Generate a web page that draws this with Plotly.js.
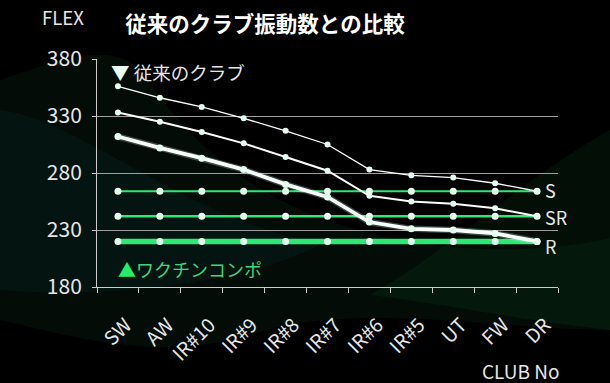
<!DOCTYPE html>
<html><head><meta charset="utf-8">
<script src="https://cdn.plot.ly/plotly-3.0.1.min.js"></script>
<style>html,body{margin:0;padding:0;background:#000;}#chart{width:610px;height:383px;}</style>
</head><body><div id="chart"></div>
<script>
const clubs = ["SW","AW","IR#10","IR#9","IR#8","IR#7","IR#6","IR#5","UT","FW","DR"];
const oldS  = [356, 346, 338, 328, 317, 305, 283, 278, 276, 271, 264];
const oldSR = [333, 325, 316, 306, 294, 282, 260, 255, 253, 249, 242];
const oldR  = [312, 302, 293, 283, 270, 259, 237, 231, 230, 227, 220];
const newS  = [264, 264, 264, 264, 264, 264, 264, 264, 264, 264, 264];
const newSR = [242, 242, 242, 242, 242, 242, 242, 242, 242, 242, 242];
const newR  = [220, 220, 220, 220, 220, 220, 220, 220, 220, 220, 220];
const yTicks = [180, 230, 280, 330, 380];

const FONT = "Noto Sans CJK JP, Noto Sans, sans-serif";
const GREEN = "#2fe874";
const DOT = "#e4fff0";

function tr(y, color, width, msize){
  return {x: clubs, y: y, type: "scatter", mode: "lines+markers",
    line: {color: color, width: width},
    marker: {color: DOT, size: msize}, hoverinfo: "skip", showlegend: false};
}
const traces = [
  tr(newR, GREEN, 5.5, 7),
  tr(newSR, GREEN, 2.5, 7),
  tr(newS, GREEN, 2, 7),
  {x: clubs, y: oldR, type: "scatter", mode: "lines", line: {color: "rgba(215,255,240,0.25)", width: 6.5}, hoverinfo: "skip", showlegend: false},
  tr(oldR, "#f8fffc", 3.8, 7),
  tr(oldSR, "#ffffff", 2, 6),
  tr(oldS, "#ffffff", 1.3, 6)
];

// decorative background (pixel -> paper coordinates)
const L = 97, T = 59, W = 461, H = 228;
function px2x(px){ return (px - L) / W; }
function px2y(py){ return (T + H - py) / H; }
function P(p){ return px2x(p[0]).toFixed(4) + "," + px2y(p[1]).toFixed(4); }
function path(cmds){
  return cmds.map(c => c[0] + " " + c.slice(1).map(P).join(" ")).join(" ") + " Z";
}
const shapes = [
  {type: "path", xref: "paper", yref: "paper", layer: "below", line: {width: 0},
   fillcolor: "rgba(25,110,60,0.11)",
   path: path([["M",[0,80]],["C",[60,60],[110,40],[140,70]],["C",[190,140],[250,210],[400,240]],["C",[480,255],[560,250],[610,238]],["L",[610,330]],["C",[500,330],[350,300],[250,335]],["C",[150,365],[50,330],[0,320]]])},
  {type: "path", xref: "paper", yref: "paper", layer: "below", line: {width: 0},
   fillcolor: "rgba(20,95,100,0.10)",
   path: path([["M",[0,110]],["C",[80,120],[170,210],[320,245]],["C",[250,280],[120,300],[0,290]]])},
  {type: "path", xref: "paper", yref: "paper", layer: "below", line: {width: 0},
   fillcolor: "rgba(30,140,60,0.10)",
   path: path([["M",[370,295]],["C",[450,250],[520,180],[610,130]],["L",[610,330]],["C",[520,320],[450,305],[370,295]]])}
];

function note(text, px, py, size, color, xanchor){
  return {text: text, xref: "paper", yref: "paper", x: px2x(px), y: px2y(py),
    xanchor: xanchor || "center", yanchor: "middle", showarrow: false,
    font: {family: FONT, size: size, color: color}};
}
const annotations = [
  note("FLEX", 63, 17, 18.5, "#e6e6e6"),
  note("CLUB No", 521, 370, 19, "#e6e6e6"),
  note("<span style='color:#e8fff2'>▼</span> 従来のクラブ", 109, 72, 18.5, "#e6e6e6", "left"),
  note("<span style='color:#22ee6a'>▲</span>ワクチンコンポ", 116, 269, 18, "#3fd67a", "left"),
  {text: "S", x: "DR", y: newS[10], xref: "x", yref: "y", xanchor: "left", yanchor: "middle", xshift: 6, yshift: 1,
   showarrow: false, font: {family: FONT, size: 18, color: "#e6e6e6"}},
  {text: "SR", x: "DR", y: newSR[10], xref: "x", yref: "y", xanchor: "left", yanchor: "middle", xshift: 6, yshift: -1,
   showarrow: false, font: {family: FONT, size: 18, color: "#e6e6e6"}},
  {text: "R", x: "DR", y: newR[10], xref: "x", yref: "y", xanchor: "left", yanchor: "middle", xshift: 6, yshift: -5,
   showarrow: false, font: {family: FONT, size: 18, color: "#e6e6e6"}}
];

const layout = {
  width: 610, height: 383,
  paper_bgcolor: "#000", plot_bgcolor: "rgba(0,0,0,0)",
  margin: {l: 97, r: 52, t: 59, b: 96},
  title: {text: "<b>従来のクラブ振動数との比較</b>", x: 265/610, xref: "container", xanchor: "center",
          y: 1 - 24/383, yref: "container", yanchor: "middle",
          font: {family: FONT, size: 21.5, color: "#ffffff"}},
  xaxis: {type: "category", range: [-0.5, 10.5], tickangle: -45,
          ticks: "outside", ticklen: 5, tickcolor: "#cccccc", tickson: "boundaries",
          showline: true, linecolor: "#cccccc", linewidth: 1, showgrid: false, zeroline: false,
          ticklabelstandoff: 18, ticklabelshift: 8,
          tickfont: {family: FONT, size: 19.5, color: "#e6e6e6"}},
  yaxis: {range: [180, 380], tickvals: yTicks, ticktext: yTicks.map(String),
          ticks: "outside", ticklen: 4, tickcolor: "#cccccc",
          showline: true, linecolor: "#cccccc", linewidth: 1,
          showgrid: true, gridcolor: "#a0a0a0", gridwidth: 1, zeroline: false,
          ticklabelstandoff: 6,
          tickfont: {family: FONT, size: 21, color: "#e6e6e6"}},
  shapes: shapes,
  annotations: annotations
};
Plotly.newPlot("chart", traces, layout, {displayModeBar: false, staticPlot: true});
</script></body></html>
